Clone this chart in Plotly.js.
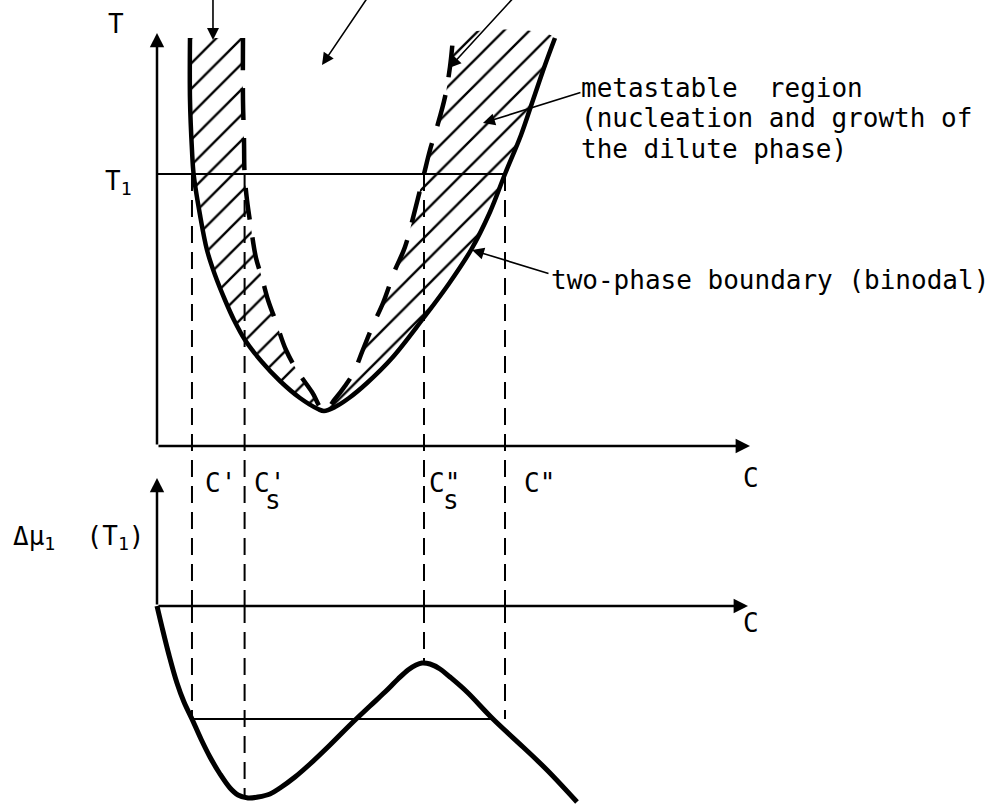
<!DOCTYPE html>
<html>
<head>
<meta charset="utf-8">
<script src="https://cdn.plot.ly/plotly-3.0.1.min.js"></script>
<style>html,body{margin:0;padding:0;background:#fff}</style>
</head>
<body>
<div id="chart" style="width:1007px;height:804px"></div>
<script>
// Binary solution: binodal and spinodal curves in the (C, T) plane, and the
// chemical potential Δμ1 across composition at the temperature T1.

// Binodal (two-phase boundary), left branch from the top down to the critical point
const binodalLeftC = [5.5, 5.5, 5.83, 6.1, 7.17, 8.33, 9.67, 11.33, 12.83, 14.67, 17.5, 20.5, 23.83, 26.83, 27.83];
const binodalLeftT = [102, 86.5, 74, 68, 57.75, 49, 42.75, 36.5, 31.5, 26.5, 21, 16.25, 12, 9.25, 8.75];
// Binodal, right branch from the critical point up
const binodalRightC = [27.83, 29.67, 32, 35, 39.17, 44.17, 48.5, 52.33, 55.5, 58, 60.67, 62.67, 64.67, 66.33];
const binodalRightT = [8.75, 9.75, 12, 15.75, 22, 31.5, 40.25, 49, 58.5, 68, 77.75, 86.5, 95.25, 102];

// Spinodal, left branch from the top down to the critical point
const spinodalLeftC = [14.33, 14.33, 14.5, 14.6, 15, 15.67, 16.5, 17.5, 18.5, 19.83, 21.5, 23.5, 25.83, 27.83];
const spinodalLeftT = [102, 86.5, 76.5, 68, 61.5, 54.5, 47, 42, 36.5, 31, 24, 18.5, 13.5, 8.75];
// Spinodal, right branch from the critical point up
const spinodalRightC = [27.83, 29.67, 31.33, 32.83, 34.17, 36, 37.67, 39.67, 41.33, 43, 44.5, 45.5, 46.67, 48, 48.83, 49.33];
const spinodalRightT = [8.75, 11.75, 15, 18.5, 23.5, 30.25, 35.75, 44, 49.75, 59, 68, 74, 79.75, 87.25, 94.75, 102];

// Δμ1 at T1 as a function of composition
const muC = [0, 0.83, 2, 3.33, 4.5, 5.83, 7.33, 8.83, 10.5, 12.17, 13.5, 15.17, 16.83, 18.83, 20.5, 23, 25.5, 28.83,
             32.67, 35.5, 38, 40.17, 41.83, 43.17, 44.17, 45.5, 47.17, 48.83, 51.67, 56, 61, 65, 70];
const muV = [0, -10.5, -24.5, -38.5, -48, -56.5, -66.5, -75.5, -84, -91, -94.5, -96, -95.5, -94, -91, -85.5, -79, -69.5,
             -58, -50, -43, -36.5, -32, -29.5, -28.5, -29, -31.5, -35.5, -43, -56.5, -70.5, -82, -98];

// Temperature T1 and the compositions marked on it
const T1 = 68;
const guideC = [5.83, 14.6, 44.5, 58];           // C', C's, C"s, C"
const guideMuEnd = [-56.5, -95.5, -28.5, -56.5]; // where each guide meets the lower plot
const guideTopBreak = -40;                       // T level of the lower plot's zero line
const tieMu = -56.5;                             // Δμ1 shared by the coexisting phases
const tieC = [5.83, 56];

// Axis extents
const tAxisTop = 103.25, cAxisEnd = 98.83;
const muAxisTop = 64, cAxisEnd2 = 98.5;

const FONT = 'DejaVu Sans Mono';
const black = '#000';

const traces = [];

// Hatched metastable regions between binodal and spinodal
const leftRegionC = binodalLeftC.concat(spinodalLeftC.slice().reverse());
const leftRegionT = binodalLeftT.concat(spinodalLeftT.slice().reverse());
const rightRegionC = spinodalRightC.concat(binodalRightC.slice().reverse());
const rightRegionT = spinodalRightT.concat(binodalRightT.slice().reverse());
const hatch = {shape: '/', size: 18, solidity: 0.13, fgcolor: black, bgcolor: 'rgba(0,0,0,0)'};
[[leftRegionC, leftRegionT], [rightRegionC, rightRegionT]].forEach(([c, t]) => {
  traces.push({
    type: 'scatter', mode: 'lines', x: c, y: t, fill: 'toself',
    fillcolor: 'rgba(0,0,0,0)', fillpattern: hatch,
    line: {width: 0, color: 'rgba(0,0,0,0)', shape: 'spline', smoothing: 1}, hoverinfo: 'skip'
  });
});

// Isotherm T1
traces.push({type: 'scatter', mode: 'lines', x: [0, guideC[3]], y: [T1, T1],
  line: {color: black, width: 2}});

// Vertical guides from T1 down to the Δμ1 curve
guideC.forEach((c, i) => {
  traces.push({type: 'scatter', mode: 'lines', x: [c, c], y: [T1, guideTopBreak],
    line: {color: black, width: 2, dash: '17px,9px'}});
  traces.push({type: 'scatter', mode: 'lines', x: [c, c], y: [0, guideMuEnd[i]], yaxis: 'y2',
    line: {color: black, width: 2, dash: '17px,9px'}});
});

// Spinodal (dashed) and binodal (solid)
traces.push({type: 'scatter', mode: 'lines',
  x: spinodalLeftC.concat(spinodalRightC.slice(1)),
  y: spinodalLeftT.concat(spinodalRightT.slice(1)),
  line: {color: black, width: 4.5, dash: '32px,18px', shape: 'spline', smoothing: 1}});
traces.push({type: 'scatter', mode: 'lines',
  x: binodalLeftC.concat(binodalRightC.slice(1)),
  y: binodalLeftT.concat(binodalRightT.slice(1)),
  line: {color: black, width: 4.5, shape: 'spline', smoothing: 1}});

// Lower plot: tie line and Δμ1 curve
traces.push({type: 'scatter', mode: 'lines', x: tieC, y: [tieMu, tieMu], yaxis: 'y2',
  line: {color: black, width: 2}});
traces.push({type: 'scatter', mode: 'lines', x: muC, y: muV, yaxis: 'y2',
  line: {color: black, width: 5, shape: 'spline', smoothing: 1}});

function label(text, x, y, yref, xanchor) {
  return {text: text, x: x, y: y, xref: 'x', yref: yref, xanchor: xanchor || 'left',
    yanchor: 'middle', showarrow: false, font: {family: FONT, size: 26, color: black}};
}
function arrow(x, y, ax, ay, yref, width, size) {
  return {text: '', x: x, y: y, ax: ax, ay: ay, xref: 'x', yref: yref, axref: 'x', ayref: yref,
    showarrow: true, arrowhead: 2, arrowsize: size, arrowwidth: width, arrowcolor: black, standoff: 0};
}

const annotations = [
  // axes
  arrow(0, tAxisTop, 0, 0, 'y', 2.5, 1.15),
  arrow(cAxisEnd, 0, 0, 0, 'y', 2.5, 1.15),
  arrow(0, muAxisTop, 0, 0, 'y2', 2.5, 1.15),
  arrow(cAxisEnd2, 0, 0, 0, 'y2', 2.5, 1.15),
  // pointers to the regions
  arrow(9.33, 101.5, 9.33, 113, 'y', 1.6, 1.5),
  arrow(27.5, 95.25, 35.5, 113, 'y', 1.6, 1.5),
  arrow(48.67, 94.5, 60, 113, 'y', 1.6, 1.5),
  arrow(54.33, 80.75, 70.83, 88.5, 'y', 1.6, 1.5),
  arrow(52.5, 49, 65.5, 43, 'y', 1.6, 1.5),
  // text
  label('T', -6.83, 105.5, 'y', 'center'),
  label('T<sub>1</sub>', -3.8, 66, 'y', 'right'),
  label("C'", 7.67, -9.25, 'y'),
  label("C'", 15.83, -9.25, 'y'),
  label('s', 19.33, -13.4, 'y', 'center'),
  label('C"', 45, -9.25, 'y'),
  label('s', 49, -13.4, 'y', 'center'),
  label('C"', 60.83, -9.25, 'y'),
  label('C', 98.92, -7.9, 'y', 'center'),
  label('C', 99.08, -8.5, 'y2', 'center'),
  label('\u0394\u03bc<sub>1</sub>\u00a0\u00a0(T<sub>1</sub>)', -24.4, 34.5, 'y2'),
  label('metastable\u00a0\u00a0region', 70.4, 89.5, 'y'),
  label('(nucleation and growth of', 70.4, 82, 'y'),
  label('the dilute phase)', 70.4, 74.25, 'y'),
  label('two-phase boundary (binodal)', 65.4, 41.5, 'y')
];

const layout = {
  width: 1007, height: 804,
  margin: {l: 0, r: 0, t: 0, b: 0},
  paper_bgcolor: '#fff', plot_bgcolor: '#fff',
  showlegend: false,
  font: {family: FONT, color: black},
  xaxis: {range: [-26.1667, 141.6667], visible: false, fixedrange: true},
  yaxis: {range: [-89.5, 111.5], visible: false, fixedrange: true},
  yaxis2: {range: [-99, 303], overlaying: 'y', visible: false, fixedrange: true},
  annotations: annotations
};

Plotly.newPlot('chart', traces, layout, {staticPlot: true, displayModeBar: false});
</script>
</body>
</html>
